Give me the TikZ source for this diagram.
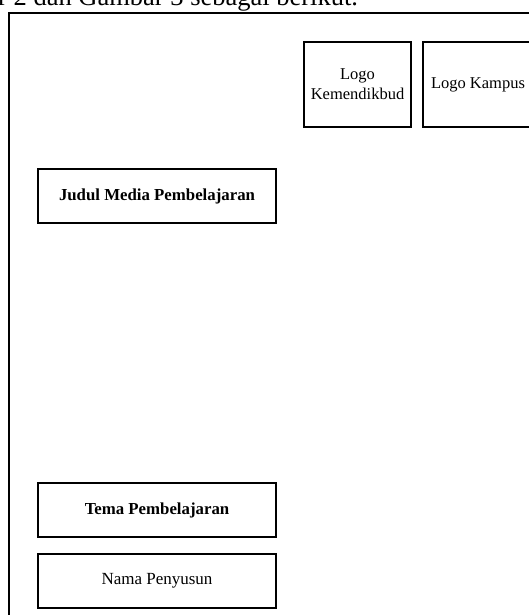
\documentclass[tikz,border=0pt]{standalone}
\usepackage{fontspec}
\setmainfont{Liberation Serif}
\begin{document}
\begin{tikzpicture}[x=1pt,y=-1pt,
  box/.style={draw, line width=1.1pt, inner sep=0pt, align=center,
    font=\fontsize{16.5}{20}\selectfont},
  bbox/.style={box, font=\fontsize{16.8}{20}\selectfont\bfseries}]
\useasboundingbox (0,0) rectangle (529,615);
\clip (0,0) rectangle (529,615);
\node[anchor=base west, inner sep=0pt, font=\fontsize{26.5}{30}\selectfont] (cap) at (-2,6) {r 2 dan Gambar 3 sebagai berikut.};
\node[draw, line width=1.2pt, inner sep=0pt, minimum width=536pt, minimum height=627pt] (page) at (277,326.5) {};
\node[box, minimum width=107pt, minimum height=85pt] (kem) at (357.5,84.5) {Logo\\Kemendikbud};
\node[box, minimum width=110pt, minimum height=85pt] (kampus) at (478,84.5) {Logo Kampus};
\node[bbox, minimum width=238pt, minimum height=54pt] (judul) at (157,196) {Judul Media Pembelajaran};
\node[bbox, minimum width=238pt, minimum height=54pt] (tema) at (157,510) {Tema Pembelajaran};
\node[box, font=\fontsize{17}{20}\selectfont, minimum width=238pt, minimum height=54pt] (nama) at (157,581) {Nama Penyusun};
\end{tikzpicture}
\end{document}
